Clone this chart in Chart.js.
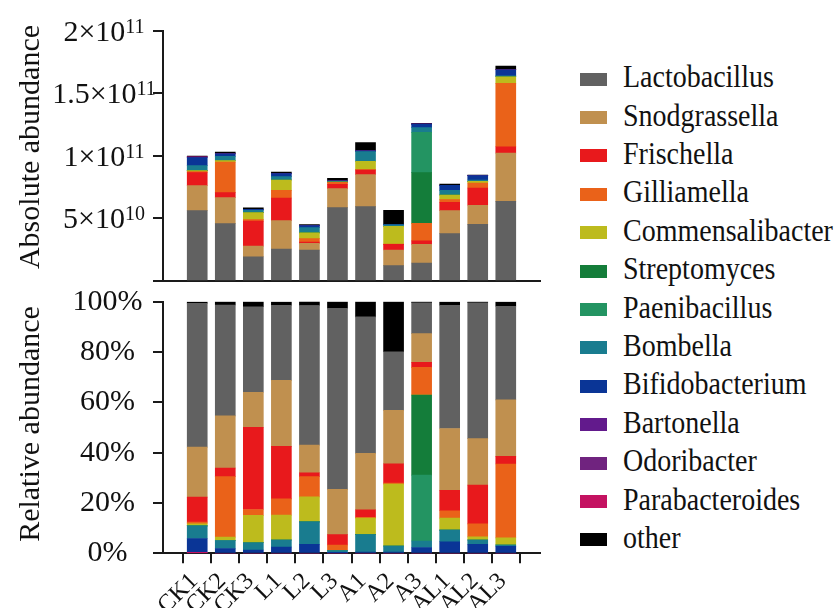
<!DOCTYPE html>
<html><head><meta charset="utf-8">
<script src="https://cdn.jsdelivr.net/npm/chart.js@4.4.1/dist/chart.umd.min.js"></script>
<style>
html,body{margin:0;padding:0;background:#fff;}
body{width:837px;height:608px;position:relative;overflow:hidden;font-family:"Liberation Serif","Times New Roman",serif;}
#w1{position:absolute;left:0;top:0;width:560px;height:300px;}
#w2{position:absolute;left:0;top:270px;width:560px;height:338px;}
.li{position:absolute;left:623px;height:38.5px;line-height:38.5px;font-size:28px;color:#111;white-space:nowrap;transform:scaleY(1.14);transform-origin:left center;}
.sw{position:absolute;left:580px;width:27px;height:13px;}
</style></head><body>
<div id="w1"><canvas id="c1"></canvas></div>
<div id="w2"><canvas id="c2"></canvas></div>
<div id="legend"></div>
<script>
// ---- categories & series ----
const categories = ['CK1','CK2','CK3','L1','L2','L3','A1','A2','A3','AL1','AL2','AL3'];
const seriesNames = ['Lactobacillus','Snodgrassella','Frischella','Gilliamella','Commensalibacter','Streptomyces','Paenibacillus','Bombella','Bifidobacterium','Bartonella','Odoribacter','Parabacteroides','other'];
const seriesColors = ['#616161','#c0904f','#e8191c','#ea6219','#bdbb1d','#147d3a','#239462','#197c8f','#0a3596','#621a8c','#70237f','#c41261','#000000'];

// ---- absolute abundance (top panel) ----
const absLactobacillus    = [56.2e9, 45.8e9, 19.4e9, 25.6e9, 24.8e9, 58.6e9, 59.4e9, 12.3e9, 14.4e9, 37.8e9, 45.3e9, 63.6e9];
const absSnodgrassella    = [20.0e9, 20.8e9,  8.5e9, 22.6e9,  5.3e9, 15.2e9, 25.6e9, 12.5e9, 14.9e9, 18.4e9, 15.2e9, 38.6e9];
const absFrischella       = [10.4e9,  4.0e9, 20.0e9, 18.1e9,  0.9e9,  3.5e9,  3.7e9,  4.5e9,  2.7e9,  6.7e9, 13.8e9,  5.1e9];
const absGilliamella      = [ 0.8e9, 24.4e9,  1.1e9,  6.1e9,  2.9e9,  1.6e9,  0.3e9,  0.2e9, 14.1e9,  2.1e9,  4.0e9, 50.6e9];
const absCommensalibacter = [ 0.8e9,  1.3e9,  5.6e9,  8.3e9,  4.5e9,  0.1e9,  6.7e9, 14.1e9,  0,      3.7e9,  1.3e9,  5.3e9];
const absStreptomyces     = [0, 0, 0, 0, 0, 0, 0, 0, 40.5e9, 0, 0, 0];
const absPaenibacillus    = [0, 0, 0, 0, 0, 0, 0, 0, 32.2e9, 0, 0, 0];
const absBombella         = [ 4.0e9,  3.3e9,  1.9e9,  2.7e9,  4.3e9,  0.7e9,  7.7e9,  1.3e9,  3.7e9,  3.7e9,  1.1e9,  0.8e9];
const absBifidobacterium  = [ 6.4e9,  2.0e9,  0.8e9,  2.4e9,  1.6e9,  0.3e9,  0.6e9,  0.3e9,  2.9e9,  4.0e9,  3.5e9,  4.8e9];
const absBartonella       = [ 0.4e9,  0.1e9, 0, 0, 0, 0, 0, 0, 0, 0, 0, 0];
const absOdoribacter      = [ 0.1e9, 0, 0, 0, 0, 0, 0, 0, 0, 0, 0, 0];
const absParabacteroides  = [ 0.2e9, 0, 0, 0, 0, 0, 0, 0, 0, 0, 0, 0];
const absOther            = [ 0.5e9,  1.3e9,  1.1e9,  1.3e9,  0.8e9,  2.1e9,  6.7e9, 11.2e9,  0.5e9,  1.0e9,  0.4e9,  2.9e9];

// ---- relative abundance (bottom panel, %) ----
const relLactobacillus    = [57.2, 44.1, 34.0, 29.9, 55.5, 72.0, 54.3, 23.3, 12.3, 49.0, 54.0, 37.2];
const relSnodgrassella    = [19.9, 20.7, 13.9, 26.2, 11.0, 18.0, 22.4, 21.2, 11.4, 24.6, 18.5, 22.5];
const relFrischella       = [ 9.9,  3.4, 32.7, 20.9,  1.5,  4.1,  3.0,  7.7,  2.0,  8.1, 15.4,  3.0];
const relGilliamella      = [ 0.7, 24.1,  2.3,  6.4,  8.1,  2.1,  0.3,  0.4, 11.0,  2.9,  5.2, 29.4];
const relCommensalibacter = [ 0.8,  1.3, 10.9,  9.9,  9.9,  0.1,  6.6, 24.6,  0,    4.8,  1.2,  2.8];
const relStreptomyces     = [0, 0, 0, 0, 0, 0, 0, 0, 31.8, 0, 0, 0];
const relPaenibacillus    = [0, 0, 0, 0, 0, 0, 0, 0, 26.2, 0, 0, 0];
const relBombella         = [ 5.0,  3.2,  2.9,  2.8,  8.9,  0.8,  6.9,  2.4,  2.6,  4.6,  1.7,  0.5];
const relBifidobacterium  = [ 5.6,  1.9,  1.3,  2.5,  3.6,  0.3,  0.5,  0.5,  2.3,  4.6,  3.6,  2.8];
const relBartonella       = [ 0.1, 0, 0, 0, 0, 0, 0, 0, 0, 0, 0, 0];
const relOdoribacter      = [0, 0, 0, 0, 0, 0, 0, 0, 0, 0, 0, 0];
const relParabacteroides  = [ 0.2, 0, 0, 0, 0, 0, 0, 0, 0, 0, 0, 0];
const relOther            = [ 0.5,  1.3,  2.0,  1.3,  1.6,  2.6,  6.0, 19.9,  0.4,  1.3,  0.4,  1.7];

// ---- tick labels ----
const absTickValues   = [0, 5e10, 1e11, 1.5e11, 2e11];
const absTickMantissa = ['', '5×10', '1×10', '1.5×10', '2×10'];
const absTickExponent = ['', '10', '11', '11', '11'];
const relTickValues = [0, 20, 40, 60, 80, 100];
const relTickLabels = ['0%', '20%', '40%', '60%', '80%', '100%'];

// stacking orders (bottom -> top)
const topStackOrder = seriesNames.slice();
const bottomStackOrder = ['Parabacteroides','Odoribacter','Bartonella','Bifidobacterium','Bombella','Paenibacillus','Streptomyces','Commensalibacter','Gilliamella','Frischella','Snodgrassella','Lactobacillus','other'];

const absolute = {Lactobacillus:absLactobacillus, Snodgrassella:absSnodgrassella, Frischella:absFrischella, Gilliamella:absGilliamella, Commensalibacter:absCommensalibacter, Streptomyces:absStreptomyces, Paenibacillus:absPaenibacillus, Bombella:absBombella, Bifidobacterium:absBifidobacterium, Bartonella:absBartonella, Odoribacter:absOdoribacter, Parabacteroides:absParabacteroides, other:absOther};
const relative = {Lactobacillus:relLactobacillus, Snodgrassella:relSnodgrassella, Frischella:relFrischella, Gilliamella:relGilliamella, Commensalibacter:relCommensalibacter, Streptomyces:relStreptomyces, Paenibacillus:relPaenibacillus, Bombella:relBombella, Bifidobacterium:relBifidobacterium, Bartonella:relBartonella, Odoribacter:relOdoribacter, Parabacteroides:relParabacteroides, other:relOther};
const colorOf = n => seriesColors[seriesNames.indexOf(n)];

const FONT = '"Liberation Serif","Times New Roman",serif';
const AXIS = '#1a1a1a';
const TEXT = '#111';

function makeDatasets(order, table){
  return order.map(n => ({
    label: n,
    data: table[n].map((v,i)=>({x:i, y:v})),
    backgroundColor: colorOf(n),
    borderWidth: 0,
    barThickness: 20
  }));
}

const sideTitle = {
  id: 'sideTitle',
  afterDraw(chart, args, o){
    const ctx = chart.ctx;
    ctx.save();
    ctx.translate(o.x, o.y);
    ctx.rotate(-Math.PI/2);
    ctx.font = '30px ' + FONT;
    ctx.fillStyle = TEXT;
    ctx.textAlign = 'center';
    ctx.textBaseline = 'middle';
    ctx.fillText(o.text, 0, 0);
    ctx.restore();
  }
};

// y tick labels with real superscript exponents, placed with the y scale
const expTicks = {
  id: 'expTicks',
  afterDraw(chart, args, o){
    const s = chart.scales.y, ctx = chart.ctx;
    ctx.save();
    ctx.fillStyle = TEXT;
    ctx.textAlign = 'left';
    ctx.textBaseline = 'alphabetic';
    absTickValues.forEach((v,i)=>{
      if (!absTickMantissa[i]) return;
      const y = s.getPixelForValue(v);
      ctx.font = '30px ' + FONT;
      const w1 = ctx.measureText(absTickMantissa[i]).width;
      ctx.font = '20px ' + FONT;
      const w2 = ctx.measureText(absTickExponent[i]).width;
      const x0 = o.cx - (w1 + w2) / 2;
      ctx.font = '30px ' + FONT;
      ctx.fillText(absTickMantissa[i], x0, y + 10);
      ctx.font = '20px ' + FONT;
      ctx.fillText(absTickExponent[i], x0 + w1, y + 2);
    });
    ctx.restore();
  }
};

function xScale(showTicks, h){
  return {
    type:'linear', min:-0.66, max:11.66, stacked:true,
    afterBuildTicks: s => { s.ticks = categories.map((_,i)=>({value:i})); },
    afterFit: s => { s.height = h; },
    grid: showTicks ? {drawOnChartArea:false, tickLength:10, lineWidth:2, color:AXIS} : {display:false},
    border: {display:true, width:2, color:AXIS},
    ticks: showTicks ? {
      display:true, autoSkip:false, maxRotation:45, minRotation:45, padding:4, labelOffset:-3,
      callback: v => categories[v], font:{family:FONT, size:24}, color:TEXT
    } : {display:false}
  };
}

function yScale(max, vals, labels, pad){
  return {
    stacked:true, min:0, max:max,
    afterBuildTicks: s => { s.ticks = vals.map(v=>({value:v})); },
    afterFit: s => { s.width = 163; },
    grid: {drawOnChartArea:false, tickLength:10, lineWidth:2, color:AXIS},
    border: {display:true, width:2, color:AXIS},
    ticks: labels ? {
      callback: v => labels[vals.indexOf(v)],
      font:{family:FONT, size:30}, color:TEXT, crossAlign:'center', padding:pad
    } : {display:false}
  };
}

new Chart(document.getElementById('c1'), {
  type:'bar',
  data:{datasets: makeDatasets(topStackOrder, absolute)},
  options:{
    responsive:true, maintainAspectRatio:false, animation:false,
    layout:{padding:{top:30.7, right:20, bottom:19, left:0}},
    scales:{ x: xScale(false, 0), y: yScale(2e11, absTickValues, null, 0) },
    plugins:{ legend:{display:false}, tooltip:{enabled:false},
      sideTitle:{text:'Absolute abundance', x:31, y:147},
      expTicks:{cx:104} }
  },
  plugins:[sideTitle, expTicks]
});

new Chart(document.getElementById('c2'), {
  type:'bar',
  data:{datasets: makeDatasets(bottomStackOrder, relative)},
  options:{
    responsive:true, maintainAspectRatio:false, animation:false,
    layout:{padding:{top:31.7, right:20, bottom:0, left:0}},
    scales:{ x: xScale(true, 54.7), y: yScale(100, relTickValues, relTickLabels, 10.5) },
    plugins:{ legend:{display:false}, tooltip:{enabled:false},
      sideTitle:{text:'Relative abundance', x:31, y:154} }
  },
  plugins:[sideTitle]
});

// ---- legend ----
const lg = document.getElementById('legend');
seriesNames.forEach((n,i)=>{
  const sw = document.createElement('div');
  sw.className='sw'; sw.style.top=(72.5+38.4*i)+'px'; sw.style.background=seriesColors[i];
  lg.appendChild(sw);
  const t = document.createElement('div');
  t.className='li'; t.style.top=(58.1+38.4*i)+'px'; t.textContent=n;
  lg.appendChild(t);
});
</script></body></html>
